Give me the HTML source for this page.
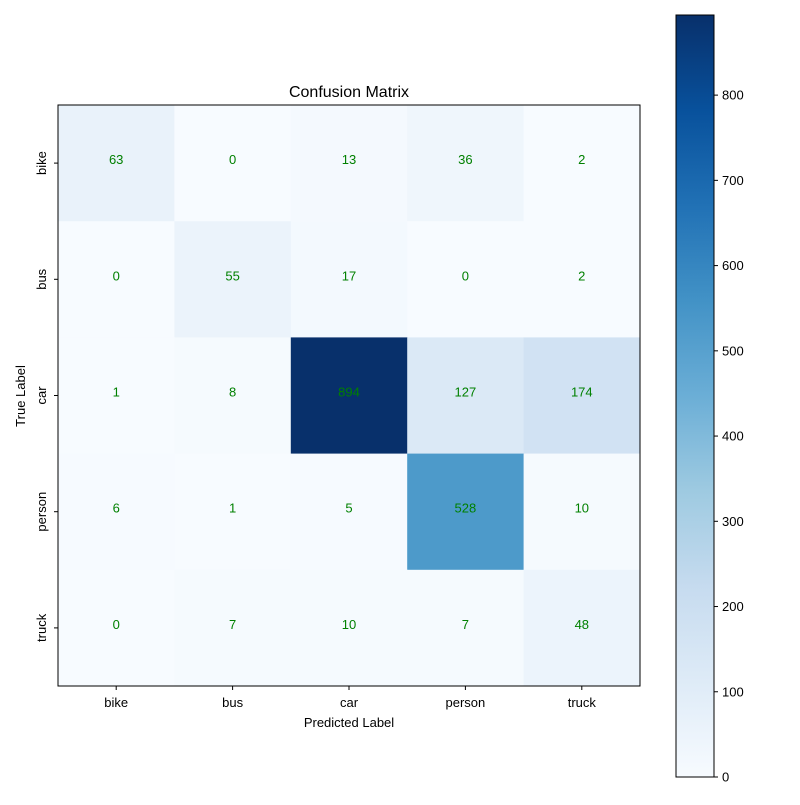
<!DOCTYPE html>
<html><head><meta charset="utf-8"><style>body{margin:0;background:#fff}svg text{font-family:"Liberation Sans",sans-serif}</style></head>
<body>
<svg id="chart" width="800" height="800" xmlns="http://www.w3.org/2000/svg"></svg>
<script>
const categories = ["bike","bus","car","person","truck"];
const matrixRows = [
  [63,0,13,36,2],
  [0,55,17,0,2],
  [1,8,894,127,174],
  [6,1,5,528,10],
  [0,7,10,7,48]
];
const colorbarTicks = [0,100,200,300,400,500,600,700,800];

const NS="http://www.w3.org/2000/svg";
const svg=document.getElementById('chart');
const stops=["#f7fbff","#deebf7","#c6dbef","#9ecae1","#6baed6","#4292c6","#2171b5","#08519c","#08306b"];
function hex(h){return [1,3,5].map(i=>parseInt(h.substr(i,2),16));}
function blues(t){t=Math.max(0,Math.min(1,t));const p=t*8,i=Math.min(7,Math.floor(p)),f=p-i;const a=hex(stops[i]),b=hex(stops[i+1]);return `rgb(${a.map((v,k)=>Math.round(v+(b[k]-v)*f)).join(',')})`;}
function el(tag,attrs,parent){const e=document.createElementNS(NS,tag);for(const k in attrs)e.setAttribute(k,attrs[k]);(parent||svg).appendChild(e);return e;}
const X0=58,Y0=105,W=582,H=581,n=categories.length,cw=W/n,ch=H/n;
const vmax=Math.max(...matrixRows.flat()),vmin=0;
const xPos=j=>X0+j*cw, yPos=i=>Y0+i*ch;
const CB={x:676,y:15,w:38,h:762};
const cbY=v=>CB.y+CB.h-(v-vmin)/(vmax-vmin)*CB.h;

const t=el('text',{x:349,y:97,'text-anchor':'middle','font-size':16});


t.textContent='Confusion Matrix';

matrixRows.forEach((row,i)=>row.forEach((v,j)=>{
  const r=el('rect',{x:xPos(j),y:yPos(i),width:cw+0.5,height:ch+0.5,fill:blues(v/vmax)});
  
  
  const tx=el('text',{x:xPos(j)+cw/2,y:yPos(i)+ch/2+1,'text-anchor':'middle','font-size':13,fill:'#008000'});
  
  
  tx.textContent=v;
}));
const frame=el('rect',{x:X0,y:Y0,width:W,height:H,fill:'none',stroke:'#000','stroke-width':1});



categories.forEach((c,j)=>{
  const cx=xPos(j)+cw/2;
  el('line',{x1:cx,y1:Y0+H,x2:cx,y2:Y0+H+4,stroke:'#000'});
  const lx=el('text',{x:cx,y:Y0+H+21,'text-anchor':'middle','font-size':13});
  
  
  lx.textContent=c;
  const cy=yPos(j)+ch/2;
  el('line',{x1:X0-4,y1:cy,x2:X0,y2:cy,stroke:'#000'});
  const ly=el('text',{x:0,y:0,'text-anchor':'middle','font-size':13,transform:`translate(${X0-12},${cy}) rotate(-90)`});
  
  
  ly.textContent=c;
});
const xt=el('text',{x:349,y:727,'text-anchor':'middle','font-size':13});


xt.textContent='Predicted Label';
const yt=el('text',{x:0,y:0,'text-anchor':'middle','font-size':13,transform:`translate(25,396) rotate(-90)`});


yt.textContent='True Label';

const defs=el('defs',{});
const g=el('linearGradient',{id:'cbg',x1:0,y1:1,x2:0,y2:0},defs);
stops.forEach((s,i)=>el('stop',{offset:i/8,'stop-color':s},g));
const cb=el('rect',{x:CB.x,y:CB.y,width:CB.w,height:CB.h,fill:'url(#cbg)',stroke:'#000','stroke-width':1});


colorbarTicks.forEach(v=>{
  const y=cbY(v);
  el('line',{x1:CB.x+CB.w,y1:y,x2:CB.x+CB.w+4,y2:y,stroke:'#000'});
  const l=el('text',{x:CB.x+CB.w+8,y:y+4.5,'font-size':13});
  
  
  l.textContent=v;
});
</script>
</body></html>
